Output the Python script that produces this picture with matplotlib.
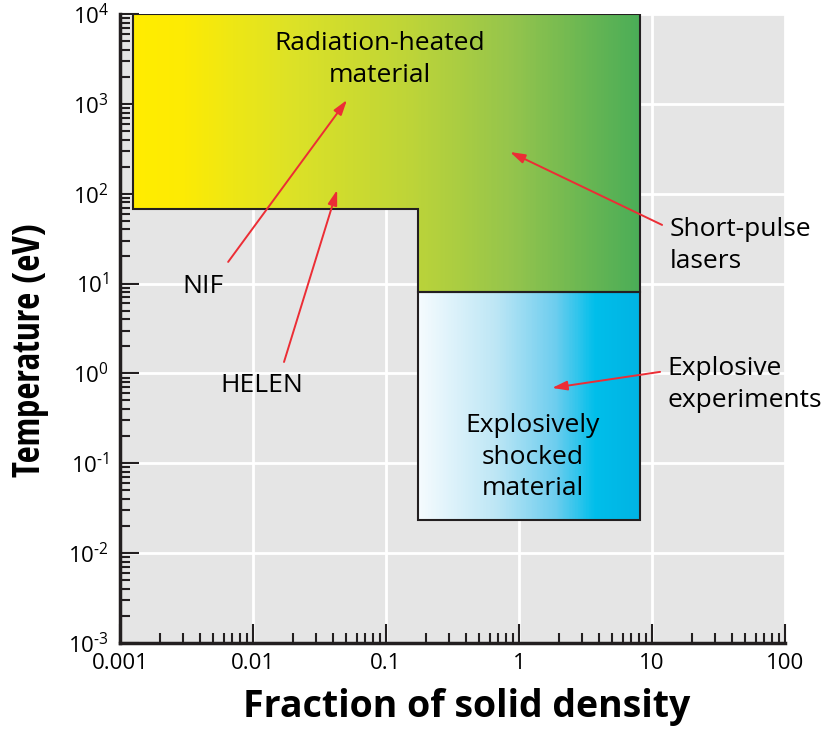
import numpy as np
import matplotlib.pyplot as plt
from matplotlib.colors import LinearSegmentedColormap
from matplotlib.patches import Polygon

plt.rcParams['font.family'] = ['Open Sans', 'DejaVu Sans']
plt.rcParams['mathtext.fontset'] = 'custom'
plt.rcParams['mathtext.rm'] = 'Open Sans'

# regime boundaries (fraction of solid density, temperature in eV)
rad_density = [0.00125, 8.1, 8.1, 0.174, 0.174, 0.00125]
rad_temp = [1e4, 1e4, 8.06, 8.06, 67, 67]
shock_density = [0.174, 8.1, 8.1, 0.174]
shock_temp = [8.06, 8.06, 0.0234, 0.0234]

x_ticks = [0.001, 0.01, 0.1, 1, 10, 100]
x_ticklabels = ['0.001', '0.01', '0.1', '1', '10', '100']
y_exponents = [-3, -2, -1, 0, 1, 2, 3, 4]

# annotations: text, text position, arrow tail, arrow head
labels = ['NIF', 'HELEN', 'Short-pulse\nlasers', 'Explosive\nexperiments']
label_xy = [(0.0042, 9.2), (0.0117, 0.74), (13.6, 26.5), (13.0, 0.75)]
arrow_tail = [(0.0065, 17.4), (0.0171, 1.34), (11.9, 44.9), (11.5, 1.04)]
arrow_head = [(0.0509, 1104), (0.0429, 110), (0.855, 291), (1.77, 0.689)]

rad_cmap = LinearSegmentedColormap.from_list('rad', [
    (0.0, '#FFEC00'), (0.09, '#FDEB03'), (0.3, '#DEE225'),
    (0.55, '#BDD438'), (0.75, '#94C44C'), (1.0, '#4BAD57')])
shock_cmap = LinearSegmentedColormap.from_list('shock', [
    (0.0, '#F5FBFE'), (0.35, '#BDE6F5'), (0.62, '#6DCDEE'),
    (0.8, '#00BEEA'), (1.0, '#00B3E3')])

fig = plt.figure(figsize=(8.26, 7.34), dpi=100)
ax = fig.add_axes([0.1453, 0.124, 0.8051, 0.857])
ax.set_facecolor('#E5E5E5')
ax.set_xscale('log')
ax.set_yscale('log')
ax.set_xlim(1e-3, 100)
ax.set_ylim(1e-3, 1e4)


def gradient_region(xs, ys, cmap):
    poly = Polygon(np.column_stack([xs, ys]), closed=True, facecolor='none',
                   edgecolor='#231F20', lw=1.5, zorder=3)
    ax.add_patch(poly)
    xe = np.logspace(np.log10(min(xs)), np.log10(max(xs)), 300)
    ye = [min(ys), max(ys)]
    c = np.arange(len(xe) - 1).reshape(1, -1)
    mesh = ax.pcolormesh(xe, ye, c, cmap=cmap, shading='flat', zorder=2)
    mesh.set_clip_path(poly)


gradient_region(rad_density, rad_temp, rad_cmap)
gradient_region(shock_density, shock_temp, shock_cmap)

ax.grid(True, which='major', color='white', lw=2, zorder=1)
ax.set_axisbelow(True)

for s in ['top', 'right']:
    ax.spines[s].set_visible(False)
for s in ['left', 'bottom']:
    ax.spines[s].set_linewidth(2.5)
    ax.spines[s].set_color('#231F20')
    ax.spines[s].set_zorder(5)

ax.set_xticks(x_ticks)
ax.set_xticklabels(x_ticklabels)
ax.set_yticks([10.0 ** e for e in y_exponents])
ax.set_yticklabels([r'$\mathregular{10^{%s}}$' % (str(e) if e >= 0 else r'\text{-}%d' % -e)
                    for e in y_exponents])
ax.tick_params(which='major', direction='in', length=14, width=1.5,
               labelsize=16, color='#231F20')
ax.tick_params(which='minor', direction='in', length=7, width=1.5,
               color='#231F20')
ax.tick_params(axis='x', pad=7)
ax.tick_params(axis='y', pad=8)

ax.set_xlabel('Fraction of solid density', fontsize=27, fontweight='bold')
ax.set_ylabel('Temperature (eV)', fontsize=26.5, fontweight='bold',
              family=['Open Sans Condensed', 'Open Sans', 'DejaVu Sans'],
              fontstretch='condensed')
ax.xaxis.set_label_coords(0.521, -0.072)
ax.yaxis.set_label_coords(-0.107, 0.465)

ax.text(0.090, 3100, 'Radiation-heated\nmaterial', ha='center', va='center',
        fontsize=19, linespacing=1.35, zorder=6)
ax.text(1.27, 0.117, 'Explosively\nshocked\nmaterial', ha='center',
        va='center', fontsize=19, linespacing=1.35, zorder=6)

for i, txt in enumerate(labels):
    ha = 'left' if '\n' in txt else 'center'
    ax.text(*label_xy[i], txt, ha=ha, va='center', fontsize=19,
            linespacing=1.35, zorder=6, clip_on=False)
    ax.annotate('', xy=arrow_head[i], xytext=arrow_tail[i],
                arrowprops=dict(arrowstyle='-|>,head_length=0.9,head_width=0.28',
                                color='#EC2D35', lw=1.4, shrinkA=0, shrinkB=0),
                zorder=7)

plt.savefig('out.png', dpi=100)
plt.close()
